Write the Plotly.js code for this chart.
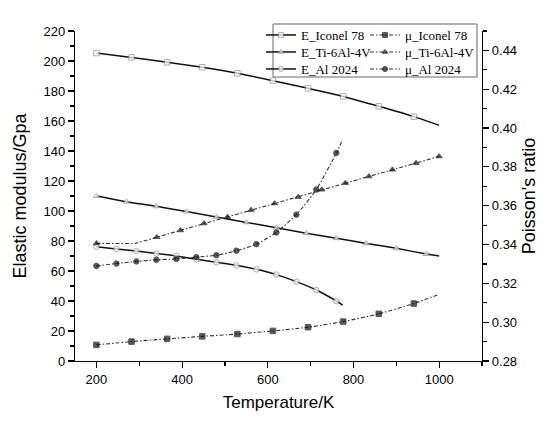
<!DOCTYPE html>
<html><head><meta charset="utf-8">
<script src="https://cdn.plot.ly/plotly-3.0.1.min.js"></script>
<style>html,body{margin:0;padding:0;background:#fff}#chart{width:550px;height:421px}</style>
</head><body><div id="chart"></div>
<script>
// ---- data ----
// Iconel 78 (marker temperatures, elastic modulus, Poisson's ratio) + line end
const iconelT = [200, 282, 365, 447, 529, 612, 694, 776, 859, 941];
const iconelE = [205.3, 202.4, 199.1, 195.8, 191.8, 186.9, 181.8, 176.4, 169.8, 162.9];
const iconelMu = [0.2883, 0.2900, 0.2914, 0.2927, 0.2939, 0.2955, 0.2974, 0.3003, 0.3043, 0.3096];
const iconelEndT = 1000, iconelEndE = 157.1, iconelEndMu = 0.3144;

// Ti-6Al-4V elastic modulus
const tiET = [200, 270, 340, 410, 480, 550, 620, 690, 760, 830, 900, 970];
const tiE = [110, 106.2, 103.1, 99.6, 96, 92.4, 88.9, 85.1, 81.8, 78.4, 75.1, 71.3];
const tiEEndT = 1000, tiEEnd = 70;

// Ti-6Al-4V Poisson's ratio (flat start up to the knee)
const tiMuT = [200, 341, 396, 451, 506, 561, 616, 671, 726, 781, 836, 891, 946, 1000];
const tiMu = [0.3406, 0.3438, 0.3473, 0.3509, 0.3542, 0.3578, 0.3612, 0.3645, 0.3683, 0.3717, 0.3751, 0.3786, 0.3820, 0.3854];
const tiMuKneeT = 290, tiMuKnee = 0.3405;

// Al 2024
const alT = [200, 246.7, 293.3, 340, 386.7, 433.3, 480, 526.7, 573.3, 620, 666.7, 713.3, 760];
const alE = [76.2, 74.7, 73.3, 71.6, 70, 67.8, 65.8, 63.8, 61.1, 57.6, 52.9, 47.3, 40];
const alMu = [0.3290, 0.3302, 0.3313, 0.3321, 0.3326, 0.3335, 0.3345, 0.3368, 0.3402, 0.3462, 0.3554, 0.3683, 0.3872];
const alEndT = 775, alEndE = 37.3, alEndMu = 0.3941;

const names = ['E_Iconel 78', 'E_Ti-6Al-4V', 'E_Al 2024', 'μ_Iconel 78', 'μ_Ti-6Al-4V', 'μ_Al 2024'];

// ---- traces ----
const MS = 5.5;
function build(name, xs, ys, marked, opts) {
  const sizes = marked.map(m => m ? MS : 0);
  return {
    type: 'scatter', mode: 'lines+markers', name: name,
    x: xs, y: ys, yaxis: opts.yaxis, legend: opts.legend,
    line: {color: opts.lineColor, width: opts.lw, dash: opts.dash, shape: opts.shape || 'spline', smoothing: 0.6},
    marker: {symbol: opts.symbol, size: sizes, color: opts.fill,
             line: {color: opts.mlc, width: 1}},
    hoverinfo: 'x+y'
  };
}
function withEnd(arr, end) { return arr.concat([end]); }
function flags(n, endFlag) { return Array(n).fill(true).concat([endFlag]); }

const openOpts = (symbol, lg) => ({yaxis: 'y', legend: lg, lineColor: '#111', lw: 1.5, dash: 'solid',
  symbol: symbol, fill: '#ffffff', mlc: '#8a8a8a'});
const filledOpts = (symbol, lg) => ({yaxis: 'y2', legend: lg, lineColor: '#333', lw: 1.1, dash: '4px,2px,1.5px,2px',
  symbol: symbol, fill: '#111', mlc: '#111'});

const traces = [
  build(names[0], withEnd(iconelT, iconelEndT), withEnd(iconelE, iconelEndE), flags(iconelT.length, false), openOpts('square', 'legend')),
  build(names[1], withEnd(tiET, tiEEndT), withEnd(tiE, tiEEnd), flags(tiET.length, false), openOpts('triangle-up', 'legend2')),
  build(names[2], withEnd(alT, alEndT), withEnd(alE, alEndE), flags(alT.length, false), openOpts('circle', 'legend3')),
  build(names[3], withEnd(iconelT, iconelEndT), withEnd(iconelMu, iconelEndMu), flags(iconelT.length, false), filledOpts('square', 'legend4')),
  build(names[4], [tiMuT[0], tiMuKneeT].concat(tiMuT.slice(1)), [tiMu[0], tiMuKnee].concat(tiMu.slice(1)),
        [true, false].concat(Array(tiMuT.length - 1).fill(true)), Object.assign(filledOpts('triangle-up', 'legend5'), {shape: 'linear'})),
  build(names[5], withEnd(alT, alEndT), withEnd(alMu, alEndMu), flags(alT.length, false), filledOpts('circle', 'legend6'))
];

const axisCommon = {
  showline: true, linecolor: '#000', linewidth: 1.2, ticks: 'outside', ticklen: 6, tickwidth: 1.2, tickcolor: '#000',
  showgrid: false, zeroline: false, automargin: false,
  tickfont: {family: 'Liberation Sans, Arial, sans-serif', size: 13, color: '#000'}
};
const minorCommon = {ticks: 'outside', ticklen: 3.5, tickwidth: 1.2, tickcolor: '#000', showgrid: false};
function legendAt(x, y) {
  return {
    x: x, y: y, xanchor: 'left', yanchor: 'top', orientation: 'v', bgcolor: 'rgba(0,0,0,0)', borderwidth: 0,
    font: {family: 'Liberation Serif, Times New Roman, serif', size: 13, color: '#000'},
    itemwidth: 30, tracegroupgap: 0, itemclick: false, itemdoubleclick: false
  };
}
const col1 = 0.457, col2 = 0.7125;
const row1 = 1.0333, row2 = 0.9818, row3 = 0.9303;

const layout = {
  width: 550, height: 421,
  margin: {l: 75, r: 68, t: 31, b: 60},
  paper_bgcolor: '#fff', plot_bgcolor: '#fff',
  font: {family: 'Liberation Sans, Arial, sans-serif', size: 14, color: '#000'},
  showlegend: true,
  xaxis: Object.assign({}, axisCommon, {
    range: [150, 1100], tick0: 200, dtick: 200,
    minor: Object.assign({}, minorCommon, {tick0: 200, dtick: 100}),
    title: {text: 'Temperature/K', font: {size: 17}, standoff: 10}
  }),
  yaxis: Object.assign({}, axisCommon, {
    range: [0, 220], tick0: 0, dtick: 20,
    minor: Object.assign({}, minorCommon, {tick0: 0, dtick: 10}),
    title: {text: 'Elastic modulus/Gpa', font: {size: 18}, standoff: 12}
  }),
  yaxis2: Object.assign({}, axisCommon, {
    overlaying: 'y', side: 'right', anchor: 'x',
    range: [0.28, 0.45], tick0: 0.28, dtick: 0.02, tickformat: '.2f',
    minor: Object.assign({}, minorCommon, {tick0: 0.28, dtick: 0.01}),
    title: {text: "Poisson's ratio", font: {size: 18}, standoff: 6}
  }),
  legend: legendAt(col1, row1),
  legend2: legendAt(col1, row2),
  legend3: legendAt(col1, row3),
  legend4: legendAt(col2, row1),
  legend5: legendAt(col2, row2),
  legend6: legendAt(col2, row3),
  shapes: [{type: 'rect', xref: 'paper', yref: 'paper', x0: 0.4865, x1: 0.9877, y0: 0.8606, y1: 1.0212,
            line: {color: '#666', width: 1}, fillcolor: 'rgba(0,0,0,0)', layer: 'above'}]
};

Plotly.newPlot('chart', traces, layout, {displayModeBar: false, staticPlot: true});
</script>
</body></html>
